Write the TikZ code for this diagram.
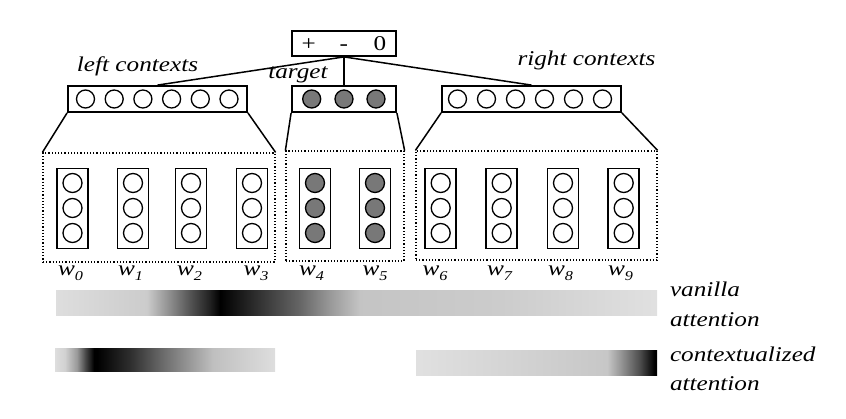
\documentclass[tikz,border=0pt]{standalone}
\usepackage{fontspec}
\usepackage{graphicx}
\setmainfont{Liberation Serif}
\newcommand\lb[1]{\scalebox{1.2}[1]{\fontsize{21}{25}\selectfont\itshape #1}}
\newcommand\ub[1]{\scalebox{1.2}[1]{\fontsize{21}{25}\selectfont #1}}
\newcommand\sbs[1]{\raisebox{-5pt}{\fontsize{13.5}{14}\selectfont #1}}
\pgfdeclarehorizontalshading{vanillash}{100bp}{color(0bp)=(black!13); color(25bp)=(black!13); color(32.55bp)=(black!20); color(34.5bp)=(black!45); color(36.15bp)=(black!67); color(37.8bp)=(black!87); color(38.65bp)=(black); color(41.95bp)=(black!80); color(45.3bp)=(black!60); color(47.8bp)=(black!40); color(50.3bp)=(black!23); color(62bp)=(black!20); color(75bp)=(black!12); color(100bp)=(black!12)}
\pgfdeclarehorizontalshading{leftsh}{100bp}{color(0bp)=(black!13); color(25bp)=(black!13); color(27.25bp)=(black!18); color(30bp)=(black!40); color(32bp)=(black!73); color(33.85bp)=(black); color(34.55bp)=(black); color(42.05bp)=(black!82); color(48.85bp)=(black!60); color(55.7bp)=(black!40); color(60.9bp)=(black!25); color(75bp)=(black!13); color(100bp)=(black!13)}
\pgfdeclarehorizontalshading{rightsh}{100bp}{color(0bp)=(black!12); color(25bp)=(black!12); color(64.65bp)=(black!22); color(67.3bp)=(black!40); color(71.45bp)=(black!70); color(74.5bp)=(black); color(75bp)=(black); color(100bp)=(black)}
\tikzset{
  vecbox/.style={draw, line width=1.8pt, minimum height=26pt, inner sep=0pt},
  wordbox/.style={draw, line width=1.8pt, minimum width=31pt, minimum height=80pt, inner sep=0pt},
  unit/.style={draw, circle, line width=1.3pt, minimum size=18pt, inner sep=0pt},
  tunit/.style={unit, fill=black!53},
  wunit/.style={unit, minimum size=19pt},
  twunit/.style={wunit, fill=black!53},
  frame/.style={draw, dotted, line width=1.2pt, inner sep=0pt},
  conn/.style={line width=1.5pt},
  lbl/.style={inner sep=0pt, outer sep=0pt}
}
\begin{document}
\begin{tikzpicture}[x=1pt,y=-1pt]
\useasboundingbox (0,0) rectangle (846,418);
% output box
\node[vecbox, minimum width=104pt, minimum height=25pt] (out) at (344,43.5)
  {\ub{+\hspace{19.7pt}-\hspace{21.5pt}0}};
% vector boxes
\node[vecbox, minimum width=179pt] (lv) at (157.5,99) {};
\node[vecbox, minimum width=104pt] (tv) at (344,99) {};
\node[vecbox, minimum width=179pt] (rv) at (531.5,99) {};
\foreach \i in {0,...,5} {
  \node[unit] (lv\i) at ({85.5+28.7*\i},99) {};
  \node[unit] (rv\i) at ({457.5+29*\i},99) {};
}
\node[tunit] (tv0) at (311.7,99) {};
\node[tunit] (tv1) at (344,99) {};
\node[tunit] (tv2) at (376,99) {};
% connectors
\draw[conn] (out.south) -- (lv.north);
\draw[conn] (out.south) -- (tv.north);
\draw[conn] (out.south) -- (rv.north);
% frames
\node[frame, minimum width=232pt, minimum height=109pt] (lf) at (159,207.5) {};
\node[frame, minimum width=118pt, minimum height=110pt] (tf) at (345,206) {};
\node[frame, minimum width=241pt, minimum height=109pt] (rf) at (536.5,205.5) {};
\draw[conn] (lv.south west) -- (lf.north west);
\draw[conn] (lv.south east) -- (lf.north east);
\draw[conn] (tv.south west) -- (tf.north west);
\draw[conn] (tv.south east) -- (tf.north east);
\draw[conn] (rv.south west) -- (rf.north west);
\draw[conn] (rv.south east) -- (rf.north east);
% word columns
\foreach \i/\x/\lx in {0/72.5/70.5, 1/133/130.5, 2/191/189.5, 3/252/256, 6/440.7/435, 7/501.7/499.5, 8/563/560.5, 9/623.7/620.5} {
  \node[wordbox] (c\i) at (\x,208.5) {};
  \node[wunit] (c\i a) at (\x,183) {};
  \node[wunit] (c\i b) at (\x,208) {};
  \node[wunit] (c\i c) at (\x,233) {};
  \node[lbl, anchor=base] (w\i) at (\lx,275) {\lb{w\sbs{\i}}};
}
\foreach \i/\x/\lx in {4/315/311.5, 5/375/375} {
  \node[wordbox] (c\i) at (\x,208.5) {};
  \node[twunit] (c\i a) at (\x,183) {};
  \node[twunit] (c\i b) at (\x,208) {};
  \node[twunit] (c\i c) at (\x,233) {};
  \node[lbl, anchor=base] (w\i) at (\lx,275) {\lb{w\sbs{\i}}};
}
% labels
\node[lbl, anchor=base] (lc) at (137.5,71.5) {\lb{left contexts}};
\node[lbl, anchor=base] (tg) at (298,78) {\lb{target}};
\node[lbl, anchor=base] (rc) at (586.5,65) {\lb{right contexts}};
% attention bars
\shade[shading=vanillash] (56,290) rectangle (657,315);
\shade[shading=leftsh] (55,348) rectangle (275,371);
\shade[shading=rightsh] (416,350) rectangle (657,375);
\node[lbl, anchor=base west] (va1) at (670,296) {\lb{vanilla}};
\node[lbl, anchor=base west] (va2) at (670,326) {\lb{attention}};
\node[lbl, anchor=base west] (ca1) at (670,361) {\lb{contextualized}};
\node[lbl, anchor=base west] (ca2) at (670,390) {\lb{attention}};
\end{tikzpicture}
\end{document}
